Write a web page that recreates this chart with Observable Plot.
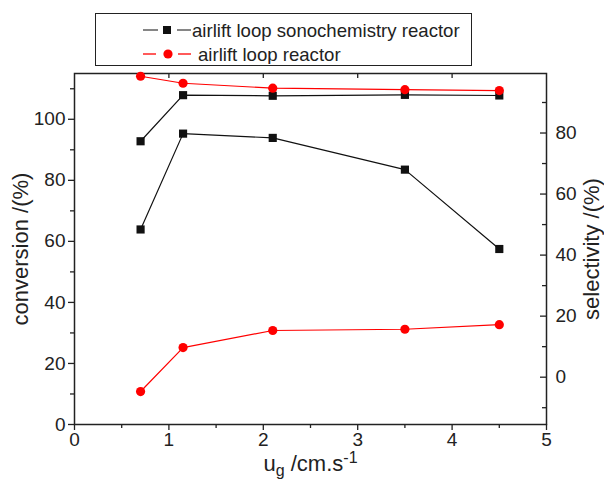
<!DOCTYPE html>
<html>
<head>
<meta charset="utf-8">
<script src="https://cdn.jsdelivr.net/npm/d3@7"></script>
<script src="https://cdn.jsdelivr.net/npm/@observablehq/plot@0.6"></script>
<style>
  html, body { margin: 0; padding: 0; background: #fff; }
  #wrap { position: relative; width: 604px; height: 480px; font-family: "Liberation Sans", Arial, sans-serif; }
  #legend { position: absolute; left: 95px; top: 13px; width: 377px; height: 53px; box-sizing: border-box; border: 1.5px solid #222; background: #fff; }
</style>
</head>
<body>
<div id="wrap">
  <div id="chart"></div>
  <div id="legend"></div>
</div>
<script>
// ---- data ----
const ug = [0.7, 1.15, 2.1, 3.5, 4.5];
const convSono = [63.9, 95.3, 93.9, 83.5, 57.5];
const selSono = [77.3, 92.4, 92.2, 92.5, 92.3];
const convAir = [10.8, 25.2, 30.8, 31.2, 32.7];
const selAir = [98.6, 96.3, 94.7, 94.2, 93.9];
const seriesNames = ["airlift loop sonochemistry reactor", "airlift loop reactor"];
const seriesColors = ["#111111", "#ff0000"];

const xDomain = [0, 5];
const xTicks = [0, 1, 2, 3, 4, 5];
const xMinor = [0.5, 1.5, 2.5, 3.5, 4.5];
const leftDomain = [0, 115];
const leftTicks = [0, 20, 40, 60, 80, 100];
const leftMinor = [10, 30, 50, 70, 90, 110];
const rightDomain = [-15.5, 99.5];
const rightTicks = [0, 20, 40, 60, 80];
const rightMinor = [-10, 10, 30, 50, 70, 90];

const xLabel = "ug /cm.s-1";
const leftLabel = "conversion /(%)";
const rightLabel = "selectivity /(%)";

// map right-axis values onto the left scale
const k = (leftDomain[1] - leftDomain[0]) / (rightDomain[1] - rightDomain[0]);
const toLeft = v => leftDomain[0] + (v - rightDomain[0]) * k;
const fromLeft = v => rightDomain[0] + (v - leftDomain[0]) / k;

const mk = (ys, s, right) => ug.map((x, i) => ({x, y: right ? toLeft(ys[i]) : ys[i], s}));
const sonoConv = mk(convSono, 0, false);
const sonoSel = mk(selSono, 0, true);
const airConv = mk(convAir, 1, false);
const airSel = mk(selAir, 1, true);

const W = 604, H = 480, mT = 73, mB = 56, mL = 74, mR = 58;
const frameH = H - mT - mB;
const ink = "#222";

const plot = Plot.plot({
  width: W, height: H,
  marginTop: mT, marginBottom: mB, marginLeft: mL, marginRight: mR,
  style: {fontFamily: "'Liberation Sans', Arial, sans-serif", fontSize: "19px", color: ink, background: "#fff", overflow: "visible"},
  x: {domain: xDomain},
  y: {domain: leftDomain},
  marks: [
    // bottom axis
    Plot.axisX({ticks: xTicks, tickSize: 6, tickPadding: 2, tickFormat: d => d, label: null, strokeWidth: 1.3}),
    Plot.axisX({ticks: xMinor, tickSize: 4, text: null, label: null, strokeWidth: 1.3}),
    // top inward ticks
    Plot.ruleX([1, 2, 3, 4], {x: d => d, insetBottom: frameH - 5, stroke: ink, strokeWidth: 1.3}),
    // left axis
    Plot.axisY({ticks: leftTicks, tickSize: 6, tickPadding: 3, label: null, strokeWidth: 1.3}),
    Plot.axisY({ticks: leftMinor, tickSize: 4, text: null, label: null, strokeWidth: 1.3}),
    // right axis (inward ticks)
    Plot.axisY({anchor: "right", ticks: rightTicks.map(toLeft), tickFormat: v => Math.round(fromLeft(v)), tickSize: 0, tickPadding: 9, label: null}),
    Plot.ruleY(rightTicks.map(toLeft), {y: d => d, insetLeft: (W - mL - mR) - 6, stroke: ink, strokeWidth: 1.3}),
    Plot.ruleY(rightMinor.map(toLeft), {y: d => d, insetLeft: (W - mL - mR) - 4, stroke: ink, strokeWidth: 1.3}),
    Plot.frame({stroke: ink, strokeWidth: 1.5}),
    // axis titles
    Plot.text([leftLabel], {text: d => d, frameAnchor: "left", textAnchor: "middle", dx: -54, rotate: -90, fontSize: 22, fill: ink}),
    Plot.text([rightLabel], {text: d => d, frameAnchor: "right", textAnchor: "middle", dx: 45, rotate: -90, fontSize: 22, fill: ink}),
    Plot.text([xLabel], {text: d => d, frameAnchor: "bottom", dy: 46, fontSize: 22, fill: ink}),
    // series
    Plot.line(sonoConv, {x: "x", y: "y", stroke: seriesColors[0], strokeWidth: 1.2}),
    Plot.line(sonoSel, {x: "x", y: "y", stroke: seriesColors[0], strokeWidth: 1.2}),
    Plot.line(airConv, {x: "x", y: "y", stroke: seriesColors[1], strokeWidth: 1.2}),
    Plot.line(airSel, {x: "x", y: "y", stroke: seriesColors[1], strokeWidth: 1.2}),
    Plot.dot(sonoConv.concat(sonoSel), {x: "x", y: "y", symbol: "square", r: 4.6, fill: seriesColors[0], stroke: "none"}),
    Plot.dot(airConv.concat(airSel), {x: "x", y: "y", symbol: "circle", r: 4.6, fill: seriesColors[1], stroke: "none"})
  ]
});
document.getElementById("chart").appendChild(plot);

// subscript / superscript in the x label
d3.select(plot).selectAll("text").filter(function() { return this.textContent === xLabel; }).each(function() {
  const t = d3.select(this);
  t.text(null);
  t.append("tspan").text("u");
  t.append("tspan").attr("dy", 5).attr("font-size", "16px").text("g");
  t.append("tspan").attr("dy", -5).text(" /cm.s");
  t.append("tspan").attr("dy", -8).attr("font-size", "16px").text("-1");
});

// legend
const lg = d3.select("#legend").append("svg").attr("width", 374).attr("height", 50)
  .style("font-family", "'Liberation Sans', Arial, sans-serif");
const rowsY = [16, 40];
seriesNames.forEach((name, i) => {
  const g = lg.append("g").attr("transform", `translate(0,${rowsY[i]})`);
  const c = seriesColors[i];
  g.append("line").attr("x1", 47).attr("x2", i ? 60 : 62).attr("y1", 0).attr("y2", 0).attr("stroke", i ? c : "#444").attr("stroke-width", 1.3);
  g.append("line").attr("x1", i ? 82 : 81).attr("x2", 95).attr("y1", 0).attr("y2", 0).attr("stroke", i ? c : "#444").attr("stroke-width", 1.3);
  if (i === 0) g.append("rect").attr("x", 67).attr("y", -4).attr("width", 8).attr("height", 8).attr("fill", c);
  else g.append("circle").attr("cx", 72).attr("cy", 0).attr("r", 4.6).attr("fill", c);
  g.append("text").attr("x", i ? 102 : 96).attr("y", 6.5).attr("font-size", "18.6px").attr("fill", ink).text(name);
});
</script>
</body>
</html>
